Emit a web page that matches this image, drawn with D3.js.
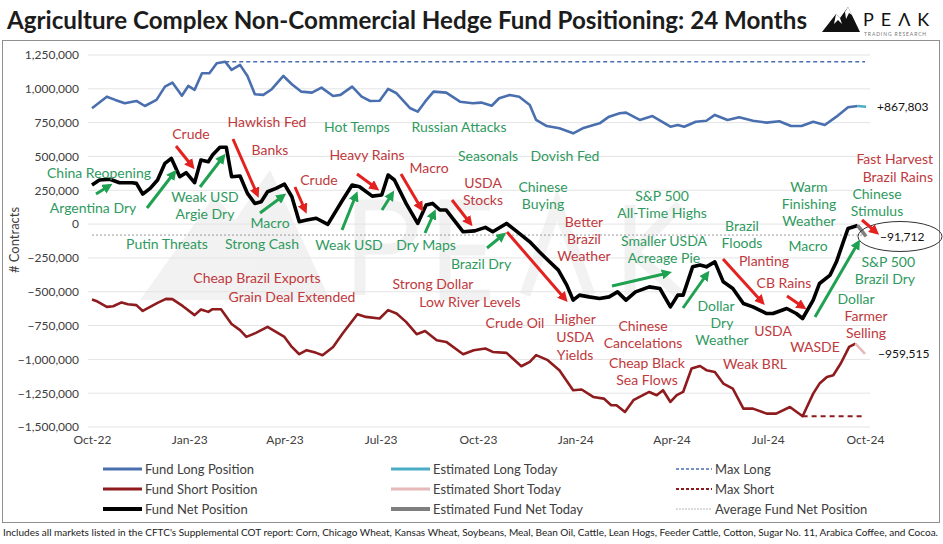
<!DOCTYPE html>
<html><head><meta charset="utf-8">
<script src="https://cdn.jsdelivr.net/npm/d3@7"></script>
<style>body{margin:0;background:#fff}svg{display:block;font-family:Lato,'Open Sans',sans-serif}</style>
</head><body><svg id="c" width="943" height="544"></svg>
<script>
// ---------------- DATA ----------------
const fundLong = [["2022-10-01",857000],["2022-10-15",942000],["2022-10-23",918000],["2022-11-01",893000],["2022-11-12",910000],["2022-11-20",873000],["2022-12-01",918000],["2022-12-09",1016000],["2022-12-16",1046000],["2022-12-25",949000],["2022-12-31",1021000],["2023-01-06",992000],["2023-01-13",1115000],["2023-01-20",1115000],["2023-01-27",1189000],["2023-02-04",1200000],["2023-02-10",1140000],["2023-02-18",1177000],["2023-02-25",1095000],["2023-03-04",960000],["2023-03-12",955000],["2023-03-20",997000],["2023-03-31",1095000],["2023-04-08",1034000],["2023-04-17",979000],["2023-04-27",972000],["2023-05-06",1009000],["2023-05-17",947000],["2023-05-24",955000],["2023-06-04",1016000],["2023-06-13",942000],["2023-06-21",910000],["2023-06-30",912000],["2023-07-08",999000],["2023-07-16",967000],["2023-07-29",856000],["2023-08-05",831000],["2023-08-12",905000],["2023-08-20",979000],["2023-09-01",972000],["2023-09-14",905000],["2023-09-26",893000],["2023-10-04",898000],["2023-10-14",875000],["2023-10-21",930000],["2023-10-31",955000],["2023-11-09",942000],["2023-11-19",881000],["2023-11-25",770000],["2023-12-05",725000],["2023-12-17",708000],["2023-12-30",671000],["2024-01-08",708000],["2024-01-24",745000],["2024-02-02",794000],["2024-02-12",819000],["2024-02-18",824000],["2024-03-02",770000],["2024-03-14",799000],["2024-03-31",720000],["2024-04-07",733000],["2024-04-13",720000],["2024-04-24",757000],["2024-05-04",764000],["2024-05-12",807000],["2024-05-24",770000],["2024-06-04",790000],["2024-06-17",764000],["2024-06-30",750000],["2024-07-12",760000],["2024-07-23",725000],["2024-08-02",725000],["2024-08-13",757000],["2024-08-24",733000],["2024-09-04",794000],["2024-09-15",864000],["2024-09-24",873000]];

const fundShort = [["2022-10-01",-557000],["2022-10-05",-568000],["2022-10-15",-612000],["2022-10-21",-607000],["2022-10-29",-579000],["2022-11-04",-592000],["2022-11-12",-599000],["2022-11-18",-642000],["2022-11-25",-612000],["2022-12-02",-582000],["2022-12-10",-553000],["2022-12-16",-555000],["2022-12-26",-607000],["2023-01-06",-673000],["2023-01-12",-631000],["2023-01-19",-649000],["2023-01-23",-629000],["2023-01-31",-629000],["2023-02-10",-739000],["2023-02-18",-784000],["2023-02-24",-834000],["2023-03-05",-804000],["2023-03-16",-760000],["2023-03-24",-797000],["2023-04-01",-834000],["2023-04-08",-908000],["2023-04-15",-962000],["2023-04-22",-932000],["2023-05-01",-952000],["2023-05-07",-969000],["2023-05-17",-908000],["2023-05-26",-809000],["2023-06-09",-666000],["2023-06-17",-686000],["2023-06-30",-698000],["2023-07-08",-636000],["2023-07-16",-661000],["2023-07-25",-723000],["2023-08-04",-814000],["2023-08-12",-790000],["2023-08-23",-858000],["2023-09-01",-871000],["2023-09-17",-962000],["2023-09-27",-932000],["2023-10-08",-920000],["2023-10-15",-945000],["2023-10-28",-952000],["2023-11-11",-1051000],["2023-11-19",-1019000],["2023-11-25",-969000],["2023-12-06",-1006000],["2023-12-17",-1080000],["2023-12-30",-1228000],["2024-01-07",-1223000],["2024-01-18",-1278000],["2024-01-28",-1290000],["2024-02-04",-1339000],["2024-02-09",-1339000],["2024-02-17",-1389000],["2024-02-25",-1302000],["2024-03-05",-1265000],["2024-03-11",-1241000],["2024-03-18",-1265000],["2024-03-24",-1228000],["2024-03-31",-1315000],["2024-04-06",-1265000],["2024-04-12",-1241000],["2024-04-20",-1068000],["2024-04-28",-1049000],["2024-05-04",-1080000],["2024-05-12",-1093000],["2024-05-20",-1179000],["2024-05-29",-1216000],["2024-06-08",-1364000],["2024-06-17",-1364000],["2024-06-30",-1401000],["2024-07-09",-1401000],["2024-07-22",-1352000],["2024-08-03",-1420000],["2024-08-13",-1253000],["2024-08-19",-1179000],["2024-08-26",-1130000],["2024-09-01",-1117000],["2024-09-08",-1031000],["2024-09-16",-908000],["2024-09-22",-883000]];

const fundNet = [["2022-10-01",289000],["2022-10-08",326000],["2022-10-18",331000],["2022-10-27",306000],["2022-11-08",306000],["2022-11-12",301000],["2022-11-18",222000],["2022-11-25",264000],["2022-12-02",326000],["2022-12-09",449000],["2022-12-15",486000],["2022-12-23",350000],["2022-12-29",380000],["2023-01-06",306000],["2023-01-12",474000],["2023-01-19",461000],["2023-01-23",511000],["2023-01-30",568000],["2023-02-05",568000],["2023-02-10",350000],["2023-02-18",355000],["2023-02-25",227000],["2023-03-04",153000],["2023-03-10",165000],["2023-03-16",239000],["2023-03-24",264000],["2023-04-01",296000],["2023-04-08",202000],["2023-04-15",17000],["2023-04-22",30000],["2023-05-01",43000],["2023-05-12",-2000],["2023-05-26",178000],["2023-06-04",289000],["2023-06-11",276000],["2023-06-23",207000],["2023-07-02",215000],["2023-07-08",363000],["2023-07-14",326000],["2023-07-25",153000],["2023-08-05",5000],["2023-08-13",141000],["2023-08-19",153000],["2023-08-26",104000],["2023-09-01",104000],["2023-09-17",-57000],["2023-09-28",-50000],["2023-10-08",-24000],["2023-10-15",-57000],["2023-10-28",5000],["2023-11-09",-69000],["2023-11-19",-131000],["2023-11-28",-205000],["2023-12-06",-266000],["2023-12-16",-340000],["2023-12-24",-451000],["2023-12-30",-562000],["2024-01-05",-525000],["2024-01-14",-538000],["2024-01-24",-550000],["2024-02-02",-538000],["2024-02-10",-501000],["2024-02-18",-562000],["2024-02-27",-501000],["2024-03-11",-464000],["2024-03-21",-476000],["2024-03-31",-612000],["2024-04-07",-525000],["2024-04-12",-525000],["2024-04-21",-316000],["2024-04-28",-303000],["2024-05-04",-316000],["2024-05-12",-279000],["2024-05-20",-427000],["2024-05-29",-476000],["2024-06-08",-587000],["2024-06-17",-612000],["2024-06-30",-661000],["2024-07-06",-661000],["2024-07-19",-624000],["2024-07-28",-661000],["2024-08-03",-698000],["2024-08-13",-562000],["2024-08-19",-439000],["2024-08-29",-377000],["2024-09-04",-279000],["2024-09-10",-143000],["2024-09-15",-32000],["2024-09-24",-10000]];

const estLong  = [["2024-09-24",873000],["2024-10-02",867803]];
const estShort = [["2024-09-22",-883000],["2024-10-01",-959515]];
const estNet   = [["2024-09-24",-10000],["2024-10-02",-91712]];

const maxLong  = [["2023-02-04",1200000],["2024-10-01",1200000]];
const maxShort = [["2024-08-03",-1420000],["2024-10-01",-1420000]];
const avgNet   = [["2022-10-01",-81000],["2024-10-01",-81000]];

const yTicks = [1250000,1000000,750000,500000,250000,0,-250000,-500000,-750000,-1000000,-1250000,-1500000];
const xTicks = ["2022-10-01","2023-01-01","2023-04-01","2023-07-01","2023-10-01","2024-01-01","2024-04-01","2024-07-01","2024-10-01"];
const xTickLabels = ["Oct-22","Jan-23","Apr-23","Jul-23","Oct-23","Jan-24","Apr-24","Jul-24","Oct-24"];

const legendNames = [["Fund Long Position","Estimated Long Today","Max Long"],
                     ["Fund Short Position","Estimated Short Today","Max Short"],
                     ["Fund Net Position","Estimated Fund Net Today","Average Fund Net Position"]];

// ---------------- LAYOUT / STYLE ----------------
const C = {long:"#4a6fae", short:"#8e1b1d", net:"#000", estLong:"#4bacc6", estShort:"#e6b9b8", estNet:"#7f7f7f",
           gText:"#2f9a60", rText:"#c0393d", gArrow:"#1fa152", rArrow:"#e3211f"};

const notes = [
 {c:"g",x:99,y:[173],t:["China Reopening"]},
 {c:"g",x:93,y:[208],t:["Argentina Dry"]},
 {c:"r",x:191,y:[134],t:["Crude"]},
 {c:"g",x:205,y:[197,214],t:["Weak USD","Argie Dry"]},
 {c:"r",x:267,y:[122],t:["Hawkish Fed"]},
 {c:"r",x:270,y:[150],t:["Banks"]},
 {c:"g",x:270,y:[223],t:["Macro"]},
 {c:"r",x:319,y:[180],t:["Crude"]},
 {c:"g",x:167,y:[244],t:["Putin Threats"]},
 {c:"g",x:262,y:[244],t:["Strong Cash"]},
 {c:"r",x:257,y:[278],t:["Cheap Brazil Exports"]},
 {c:"r",x:292,y:[297],t:["Grain Deal Extended"]},
 {c:"g",x:357,y:[127],t:["Hot Temps"]},
 {c:"g",x:459,y:[127],t:["Russian Attacks"]},
 {c:"r",x:367,y:[155],t:["Heavy Rains"]},
 {c:"g",x:488,y:[156],t:["Seasonals"]},
 {c:"g",x:565,y:[156],t:["Dovish Fed"]},
 {c:"r",x:429,y:[168],t:["Macro"]},
 {c:"r",x:483,y:[183,200],t:["USDA","Stocks"]},
 {c:"g",x:543,y:[187,204],t:["Chinese","Buying"]},
 {c:"g",x:349,y:[245],t:["Weak USD"]},
 {c:"g",x:426,y:[245],t:["Dry Maps"]},
 {c:"g",x:481,y:[264],t:["Brazil Dry"]},
 {c:"r",x:433,y:[284],t:["Strong Dollar"]},
 {c:"r",x:470,y:[302],t:["Low River Levels"]},
 {c:"r",x:515,y:[323],t:["Crude Oil"]},
 {c:"r",x:584,y:[222,239,256],t:["Better","Brazil","Weather"]},
 {c:"r",x:575,y:[319,337,355],t:["Higher","USDA","Yields"]},
 {c:"g",x:662,y:[196,213],t:["S&P 500","All-Time Highs"]},
 {c:"g",x:664,y:[241,258],t:["Smaller USDA","Acreage Pie"]},
 {c:"g",x:742,y:[226,243],t:["Brazil","Floods"]},
 {c:"g",x:809,y:[187,204,221],t:["Warm","Finishing","Weather"]},
 {c:"r",x:933,a:"end",y:[159,177],t:["Fast Harvest","Brazil Rains"]},
 {c:"g",x:877,y:[194,211],t:["Chinese","Stimulus"]},
 {c:"g",x:808,y:[246],t:["Macro"]},
 {c:"r",x:764,y:[261],t:["Planting"]},
 {c:"r",x:784,y:[283],t:["CB Rains"]},
 {c:"g",x:915,a:"end",y:[262,279],t:["S&P 500","Brazil Dry"]},
 {c:"g",x:856,y:[299],t:["Dollar"]},
 {c:"r",x:866,y:[316,333],t:["Farmer","Selling"]},
 {c:"g",x:716,y:[306],t:["Dollar"]},
 {c:"g",x:722,y:[323,340],t:["Dry","Weather"]},
 {c:"r",x:773,y:[331],t:["USDA"]},
 {c:"r",x:815,y:[347],t:["WASDE"]},
 {c:"r",x:755,y:[364],t:["Weak BRL"]},
 {c:"r",x:643,y:[326,343],t:["Chinese","Cancelations"]},
 {c:"r",x:647,y:[363,380],t:["Cheap Black","Sea Flows"]}
];

const arrows = [
 ["g",96,194,109,186],["g",147,208,174,173],["r",176,146,192,166],["g",200,187,223,157],
 ["r",233,139,257,194],["g",260,213,283,196],["r",295,187,305,210],["r",357,174,376,188],
 ["g",342,230,356,195],["g",382,210,392,194],["r",401,174,421,208],["g",425,233,434,213],
 ["r",452,200,470,223],["g",487,248,503,235],["r",507,232,565,299],["g",612,286,668,273],
 ["g",683,308,707,274],["r",723,259,762,302],["r",787,296,803,307],["g",815,317,858,243],
 ["r",862,220,876,232]
];

// ---------------- DRAW ----------------
const svg = d3.select("#c");
const parse = d3.timeParse("%Y-%m-%d");
const x = d3.scaleTime().domain([parse("2022-10-01"), parse("2024-10-01")]).range([92, 865]);
const y = d3.scaleLinear().domain([-1500000, 1250000]).range([427, 55]);
const line = d3.line().x(d => x(parse(d[0]))).y(d => y(d[1]));

svg.append("rect").attr("width",943).attr("height",544).attr("fill","#fff");

const defs = svg.append("defs");
[["g",C.gArrow],["r",C.rArrow]].forEach(([k,col]) => {
  defs.append("marker").attr("id","ah"+k).attr("viewBox","0 0 10 10").attr("refX",6).attr("refY",5)
    .attr("markerWidth",3.4).attr("markerHeight",3.4).attr("orient","auto")
    .append("path").attr("d","M0,0L10,5L0,10z").attr("fill",col);
});

// title
svg.append("text").attr("x",7).attr("y",29).attr("font-size",25).attr("font-weight",700).attr("fill","#1c1c1c")
  .attr("textLength",800).attr("lengthAdjust","spacingAndGlyphs")
  .text("Agriculture Complex Non-Commercial Hedge Fund Positioning: 24 Months");

// logo
const logo = svg.append("g");
logo.append("path").attr("d","M822,32 L836,14 L840,18 L848,7 L860,32 Z").attr("fill","#111");
logo.append("path").attr("d","M836,14 L840,18 L842,24 L838,20 L834,24 Z M848,7 L852,15 L849,13 L846,19 L845,12 Z").attr("fill","#fff");
logo.append("text").attr("x",863).attr("y",25.5).attr("font-size",18).attr("letter-spacing",7).attr("fill","#111").text("PEΛK");
logo.append("text").attr("x",864).attr("y",35.5).attr("font-size",5).attr("letter-spacing",0.9).attr("fill","#777").text("TRADING RESEARCH");

// chart border
svg.append("rect").attr("x",2.5).attr("y",40.5).attr("width",937).attr("height",482)
  .attr("fill","none").attr("stroke","#8f8f8f").attr("stroke-width",1);

// watermark (drawn as shapes)
const wm = svg.append("g").attr("opacity",0.05);
wm.append("path").attr("d","M140,300 L215,195 L235,220 L270,170 L330,300 Z").attr("fill","#000");
wm.append("path").attr("fill","none").attr("stroke","#000").attr("stroke-width",11)
  .attr("d","M360,295 V205 H388 A24,22 0 0 1 388,249 H360 M490,205 H445 V295 H490 M445,250 H485 M525,295 L557,205 L590,295 M630,205 V295 M680,205 L633,252 L680,295");

// gridlines
svg.append("g").selectAll("line").data(yTicks).join("line")
  .attr("x1",88).attr("x2",870).attr("y1",d=>y(d)).attr("y2",d=>y(d))
  .attr("stroke","#e4e4e4").attr("stroke-width",1);

// y axis
const ya = svg.append("g").attr("transform","translate(82,0)")
  .call(d3.axisLeft(y).tickValues(yTicks).tickFormat(d3.format(",")).tickSize(0).tickPadding(3));
ya.select(".domain").remove();
ya.selectAll("text").attr("font-size",12).attr("fill","#404040").attr("font-family","Lato");

// x axis
const xa = svg.append("g").attr("transform","translate(0,430)")
  .call(d3.axisBottom(x).tickValues(xTicks.map(parse)).tickFormat((d,i)=>xTickLabels[i]).tickSize(0).tickPadding(5));
xa.select(".domain").remove();
xa.selectAll("text").attr("font-size",12).attr("fill","#404040").attr("font-family","Lato");

// y title
svg.append("text").attr("transform","translate(19,240) rotate(-90)").attr("text-anchor","middle")
  .attr("font-size",13).attr("fill","#404040").text("# Contracts");

// reference lines
svg.append("path").datum(avgNet).attr("d",line).attr("fill","none").attr("stroke","#9a9a9a").attr("stroke-width",1).attr("stroke-dasharray","2,2");
svg.append("path").datum(maxLong).attr("d",line).attr("fill","none").attr("stroke",C.long).attr("stroke-width",1.6).attr("stroke-dasharray","4,3");
svg.append("path").datum(maxShort).attr("d",line).attr("fill","none").attr("stroke",C.short).attr("stroke-width",2).attr("stroke-dasharray","5,4");

// series
svg.append("path").datum(fundLong).attr("d",line).attr("fill","none").attr("stroke",C.long).attr("stroke-width",2.6).attr("stroke-linejoin","round");
svg.append("path").datum(estLong).attr("d",line).attr("fill","none").attr("stroke",C.estLong).attr("stroke-width",2.6);
svg.append("path").datum(fundShort).attr("d",line).attr("fill","none").attr("stroke",C.short).attr("stroke-width",2.6).attr("stroke-linejoin","round");
svg.append("path").datum(estShort).attr("d",line).attr("fill","none").attr("stroke",C.estShort).attr("stroke-width",2.6);
svg.append("path").datum(fundNet).attr("d",line).attr("fill","none").attr("stroke",C.net).attr("stroke-width",3.6).attr("stroke-linejoin","round");
svg.append("path").datum(estNet).attr("d",line).attr("fill","none").attr("stroke",C.estNet).attr("stroke-width",3.6);

// end labels
const fmt = d3.format(",");
svg.append("text").attr("x",877).attr("y",y(estLong[1][1])).attr("dy","0.35em").attr("font-size",12).attr("fill","#111").text("+"+fmt(estLong[1][1]));
svg.append("text").attr("x",880).attr("y",y(estNet[1][1])).attr("dy","0.35em").attr("font-size",12).attr("fill","#111").text(fmt(estNet[1][1]));
svg.append("text").attr("x",878).attr("y",y(estShort[1][1])).attr("dy","0.35em").attr("font-size",12).attr("fill","#111").text(fmt(estShort[1][1]));
svg.append("ellipse").attr("cx",900).attr("cy",y(estNet[1][1])).attr("rx",42).attr("ry",15)
  .attr("fill","none").attr("stroke","#333").attr("stroke-width",1);

// arrows
svg.append("g").selectAll("line").data(arrows).join("line")
  .attr("x1",d=>d[1]).attr("y1",d=>d[2]).attr("x2",d=>d[3]).attr("y2",d=>d[4])
  .attr("stroke",d=>d[0]==="g"?C.gArrow:C.rArrow).attr("stroke-width",3)
  .attr("marker-end",d=>"url(#ah"+d[0]+")");

// annotation texts
const ng = svg.append("g").attr("font-size",14);
notes.forEach(n => {
  const t = ng.append("text").attr("text-anchor",n.a||"middle").attr("fill",n.c==="g"?C.gText:C.rText);
  n.t.forEach((s,i) => {
    t.append("tspan").attr("x",n.x).attr("y",n.y[i]).attr("dy","0.35em").text(s);
  });
});

// legend
const colX = [[103,142,145],[391,430,433],[676,712,715]];
const rowY = [469,489,509];
const legStyle = [
  [{c:C.long,w:3},{c:C.estLong,w:3},{c:C.long,w:1.5,d:"3,2"}],
  [{c:C.short,w:3},{c:C.estShort,w:3},{c:C.short,w:1.8,d:"3,2"}],
  [{c:C.net,w:4},{c:C.estNet,w:4},{c:"#b8b8b8",w:1,d:"2,1"}]
];
const lg = svg.append("g");
legendNames.forEach((row,r) => row.forEach((name,k) => {
  const st = legStyle[r][k];
  lg.append("line").attr("x1",colX[k][0]).attr("x2",colX[k][1]).attr("y1",rowY[r]).attr("y2",rowY[r])
    .attr("stroke",st.c).attr("stroke-width",st.w).attr("stroke-dasharray",st.d||null);
  lg.append("text").attr("x",colX[k][2]).attr("y",rowY[r]).attr("dy","0.35em").attr("font-size",13)
    .attr("fill","#404040").text(name);
}));

// footer
svg.append("text").attr("x",3).attr("y",536).attr("font-size",10).attr("fill","#222")
  .attr("textLength",935).attr("lengthAdjust","spacingAndGlyphs")
  .text("Includes all markets listed in the CFTC's Supplemental COT report: Corn, Chicago Wheat, Kansas Wheat, Soybeans, Meal, Bean Oil, Cattle, Lean Hogs, Feeder Cattle, Cotton, Sugar No. 11, Arabica Coffee, and Cocoa.");
</script></body></html>
